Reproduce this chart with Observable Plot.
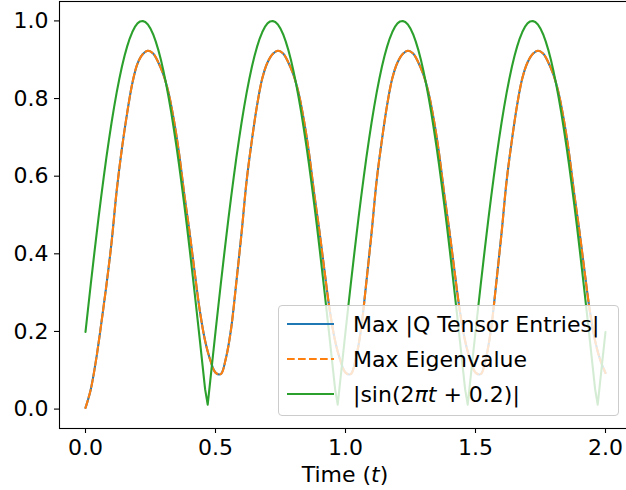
<!DOCTYPE html>
<html>
<head>
<meta charset="utf-8">
<script src="https://cdn.jsdelivr.net/npm/d3@7"></script>
<script src="https://cdn.jsdelivr.net/npm/@observablehq/plot@0.6"></script>
<style>
  html, body { margin: 0; padding: 0; background: #fff; overflow: hidden; }
  #wrap { position: relative; width: 626px; height: 490px; overflow: hidden; font-family: "DejaVu Sans", sans-serif; }
  #legend { position: absolute; left: 278px; top: 305px; width: 341px; height: 111px; box-sizing: border-box;
            border: 1px solid #cccccc; border-radius: 4px; background: rgba(255,255,255,0.8); }
  .row { display: flex; align-items: center; height: 35px; font-size: 22px; color: #000; white-space: nowrap; }
  .row svg { margin-left: 8px; margin-right: 19px; flex: none; }
  .row span { position: relative; top: 1px; }
  #xlabel { position: absolute; left: 345px; top: 462px; transform: translateX(-50%); font-size: 22px; white-space: nowrap; }
</style>
</head>
<body>
<div id="wrap">
  <div id="chart"></div>
  <div id="xlabel">Time (<i>t</i>)</div>
  <div id="legend">
    <div class="row"><svg width="47" height="6"><line x1="0" y1="3" x2="47" y2="3" stroke="#1f77b4" stroke-width="2.1"/></svg><span>Max |Q Tensor Entries|</span></div>
    <div class="row"><svg width="47" height="6"><line x1="0" y1="3" x2="47" y2="3" stroke="#ff7f0e" stroke-width="2.1" stroke-dasharray="7.7,3.3"/></svg><span>Max Eigenvalue</span></div>
    <div class="row"><svg width="47" height="6"><line x1="0" y1="3" x2="47" y2="3" stroke="#2ca02c" stroke-width="2.1"/></svg><span>|sin(2<i>πt</i> + 0.2)|</span></div>
  </div>
</div>
<script>
// Sample step of each series (time from 0 to 2)
const qStep = 0.02;
const sinStep = 0.01;

// Max |Q Tensor Entries| (t = 0, 0.02, ..., 2.0)
const maxQ = [
  0.003,0.050,0.124,0.217,0.317,0.428,0.563,0.671,0.762,0.839,0.890,0.914,0.923,0.916,0.893,0.861,0.813,0.744,0.658,0.553,0.457,0.352,0.252,0.176,0.126,
  0.094,0.090,0.131,0.207,0.326,0.452,0.590,0.693,0.783,0.852,0.893,0.915,0.923,0.916,0.893,0.861,0.813,0.744,0.658,0.553,0.457,0.352,0.252,0.176,0.126,
  0.094,0.090,0.131,0.207,0.326,0.452,0.590,0.693,0.783,0.852,0.893,0.915,0.923,0.916,0.893,0.861,0.813,0.744,0.658,0.553,0.457,0.352,0.252,0.176,0.126,
  0.094,0.090,0.131,0.207,0.326,0.452,0.590,0.693,0.783,0.852,0.893,0.915,0.923,0.916,0.893,0.861,0.813,0.744,0.658,0.553,0.457,0.352,0.252,0.176,0.126,
  0.093
];

// Max Eigenvalue (coincides with the curve above)
const maxEig = [
  0.003,0.050,0.124,0.217,0.317,0.428,0.563,0.671,0.762,0.839,0.890,0.914,0.923,0.916,0.893,0.861,0.813,0.744,0.658,0.553,0.457,0.352,0.252,0.176,0.126,
  0.094,0.090,0.131,0.207,0.326,0.452,0.590,0.693,0.783,0.852,0.893,0.915,0.923,0.916,0.893,0.861,0.813,0.744,0.658,0.553,0.457,0.352,0.252,0.176,0.126,
  0.094,0.090,0.131,0.207,0.326,0.452,0.590,0.693,0.783,0.852,0.893,0.915,0.923,0.916,0.893,0.861,0.813,0.744,0.658,0.553,0.457,0.352,0.252,0.176,0.126,
  0.094,0.090,0.131,0.207,0.326,0.452,0.590,0.693,0.783,0.852,0.893,0.915,0.923,0.916,0.893,0.861,0.813,0.744,0.658,0.553,0.457,0.352,0.252,0.176,0.126,
  0.093
];

// |sin(2πt + 0.2)| (t = 0, 0.01, ..., 2.0)
const absSin = [
  0.1987,0.2598,0.3200,0.3788,0.4362,0.4918,0.5455,0.5972,0.6464,0.6931,0.7370,0.7779,0.8159,0.8502,0.8818,0.9094,0.9337,0.9546,0.9713,0.9844,0.9935,0.9987,0.9999,0.9972,0.9906,0.9801,0.9657,0.9473,0.9254,0.8999,0.8705,0.8378,0.8022,0.7630,0.7210,0.6761,0.6285,0.5783,0.5261,0.4717,0.4153,0.3574,0.2981,0.2375,0.1761,0.1139,0.0513,0.0115,0.0742,0.1368,
  0.1987,0.2598,0.3200,0.3788,0.4362,0.4918,0.5455,0.5972,0.6464,0.6931,0.7370,0.7779,0.8159,0.8502,0.8818,0.9094,0.9337,0.9546,0.9713,0.9844,0.9935,0.9987,0.9999,0.9972,0.9906,0.9801,0.9657,0.9473,0.9254,0.8999,0.8705,0.8378,0.8022,0.7630,0.7210,0.6761,0.6285,0.5783,0.5261,0.4717,0.4153,0.3574,0.2981,0.2375,0.1761,0.1139,0.0513,0.0115,0.0742,0.1368,
  0.1987,0.2598,0.3200,0.3788,0.4362,0.4918,0.5455,0.5972,0.6464,0.6931,0.7370,0.7779,0.8159,0.8502,0.8818,0.9094,0.9337,0.9546,0.9713,0.9844,0.9935,0.9987,0.9999,0.9972,0.9906,0.9801,0.9657,0.9473,0.9254,0.8999,0.8705,0.8378,0.8022,0.7630,0.7210,0.6761,0.6285,0.5783,0.5261,0.4717,0.4153,0.3574,0.2981,0.2375,0.1761,0.1139,0.0513,0.0115,0.0742,0.1368,
  0.1987,0.2598,0.3200,0.3788,0.4362,0.4918,0.5455,0.5972,0.6464,0.6931,0.7370,0.7779,0.8159,0.8502,0.8818,0.9094,0.9337,0.9546,0.9713,0.9844,0.9935,0.9987,0.9999,0.9972,0.9906,0.9801,0.9657,0.9473,0.9254,0.8999,0.8705,0.8378,0.8022,0.7630,0.7210,0.6761,0.6285,0.5783,0.5261,0.4717,0.4153,0.3574,0.2981,0.2375,0.1761,0.1139,0.0513,0.0115,0.0742,0.1368,
  0.1987
];

const xTicks = [0, 0.5, 1.0, 1.5, 2.0];
const yTicks = [0, 0.2, 0.4, 0.6, 0.8, 1.0];

const qData = maxQ.map((v, i) => ({t: i * qStep, v}));
const eData = maxEig.map((v, i) => ({t: i * qStep, v}));
const sData = absSin.map((v, i) => ({t: i * sinStep, v}));

const fmt = d3.format(".1f");

const chart = Plot.plot({
  width: 626,
  height: 490,
  marginLeft: 59,
  marginRight: -5,
  marginTop: 1,
  marginBottom: 62,
  style: {fontFamily: "DejaVu Sans", fontSize: "22px", color: "#000", background: "#fff", overflow: "hidden"},
  x: {domain: [-0.1, 2.1]},
  y: {domain: [-0.05, 1.05]},
  marks: [
    Plot.axisX({ticks: xTicks, tickFormat: fmt, tickSize: 5, tickPadding: 6, strokeWidth: 1.1, label: null, fontSize: 22}),
    Plot.axisY({ticks: yTicks, tickFormat: fmt, tickSize: 5, tickPadding: 6, strokeWidth: 1.1, label: null, fontSize: 22}),
    Plot.line(qData, {x: "t", y: "v", stroke: "#1f77b4", strokeWidth: 2.1, curve: "catmull-rom"}),
    Plot.line(eData, {x: "t", y: "v", stroke: "#ff7f0e", strokeWidth: 2.1, strokeDasharray: "7.7,3.3", curve: "catmull-rom"}),
    Plot.line(sData, {x: "t", y: "v", stroke: "#2ca02c", strokeWidth: 2.1}),
    Plot.frame({stroke: "#000", strokeWidth: 1.1})
  ]
});
document.getElementById("chart").appendChild(chart);
</script>
</body>
</html>
